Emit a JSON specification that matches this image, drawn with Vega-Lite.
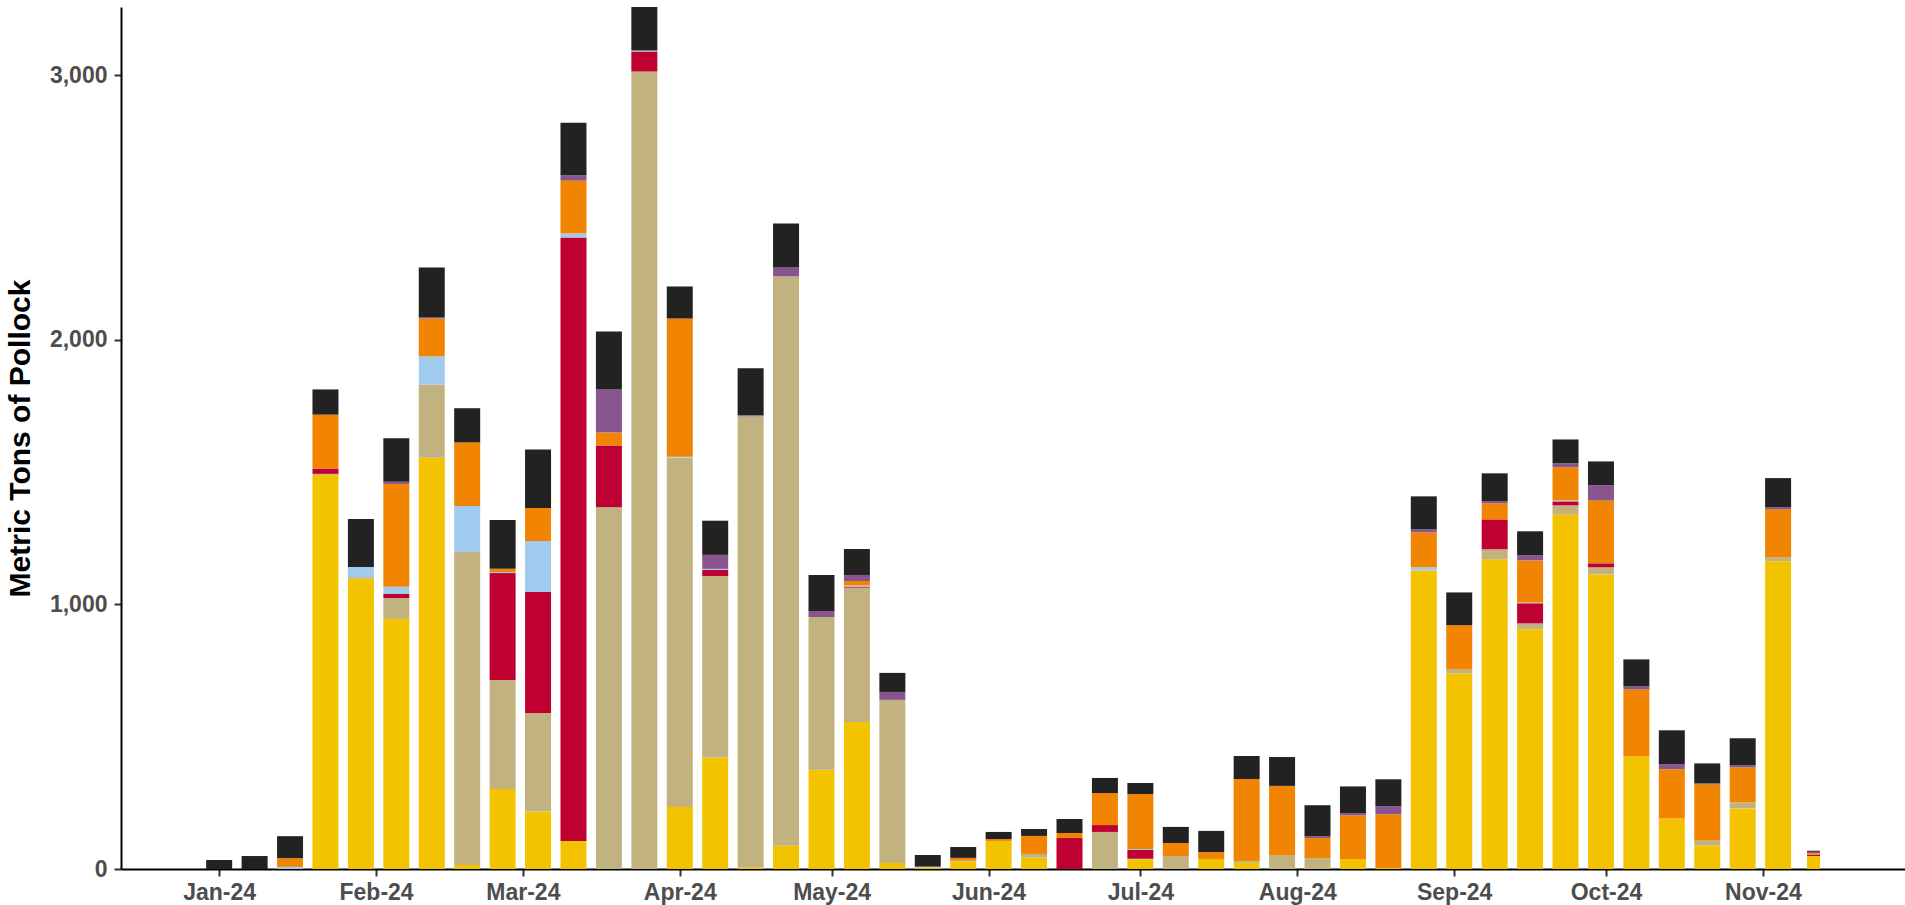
{
  "$schema": "https://vega.github.io/schema/vega-lite/v6.json",
  "width": 1784,
  "height": 862,
  "autosize": {"type": "none"},
  "padding": {"left": 121, "top": 7, "right": 0, "bottom": 36},
  "background": "white",
  "config": {"view": {"stroke": null}, "font": "Liberation Sans"},
  "data": {"values": [
    {"week": "2024-01-01", "A": 0, "B": 0, "C": 0, "D": 0, "E": 0, "F": 0, "G": 34},
    {"week": "2024-01-08", "A": 0, "B": 0, "C": 0, "D": 0, "E": 0, "F": 0, "G": 49},
    {"week": "2024-01-15", "A": 0, "B": 0, "C": 0, "D": 8, "E": 33, "F": 0, "G": 83},
    {"week": "2024-01-22", "A": 1489, "B": 4, "C": 20, "D": 0, "E": 204, "F": 0, "G": 95},
    {"week": "2024-01-29", "A": 1097, "B": 6, "C": 0, "D": 38, "E": 0, "F": 0, "G": 181},
    {"week": "2024-02-05", "A": 945, "B": 79, "C": 15, "D": 27, "E": 389, "F": 8, "G": 165},
    {"week": "2024-02-12", "A": 1554, "B": 277, "C": 0, "D": 105, "E": 144, "F": 4, "G": 189},
    {"week": "2024-02-19", "A": 15, "B": 1183, "C": 0, "D": 174, "E": 240, "F": 0, "G": 129},
    {"week": "2024-02-26", "A": 302, "B": 412, "C": 404, "D": 4, "E": 12, "F": 0, "G": 185},
    {"week": "2024-03-04", "A": 217, "B": 372, "C": 458, "D": 192, "E": 125, "F": 0, "G": 221},
    {"week": "2024-03-11", "A": 106, "B": 0, "C": 2280, "D": 15, "E": 200, "F": 19, "G": 200},
    {"week": "2024-03-18", "A": 0, "B": 1367, "C": 233, "D": 0, "E": 49, "F": 163, "G": 219},
    {"week": "2024-03-25", "A": 0, "B": 3013, "C": 76, "D": 4, "E": 0, "F": 0, "G": 164},
    {"week": "2024-04-01", "A": 234, "B": 1320, "C": 0, "D": 4, "E": 522, "F": 0, "G": 121},
    {"week": "2024-04-08", "A": 421, "B": 686, "C": 23, "D": 4, "E": 0, "F": 53, "G": 129},
    {"week": "2024-04-15", "A": 5, "B": 1705, "C": 0, "D": 0, "E": 0, "F": 4, "G": 178},
    {"week": "2024-04-22", "A": 88, "B": 2151, "C": 0, "D": 0, "E": 0, "F": 34, "G": 166},
    {"week": "2024-04-29", "A": 375, "B": 577, "C": 0, "D": 0, "E": 0, "F": 23, "G": 136},
    {"week": "2024-05-06", "A": 555, "B": 508, "C": 4, "D": 4, "E": 17, "F": 23, "G": 98},
    {"week": "2024-05-13", "A": 23, "B": 616, "C": 0, "D": 0, "E": 0, "F": 30, "G": 72},
    {"week": "2024-05-20", "A": 5, "B": 4, "C": 0, "D": 0, "E": 0, "F": 0, "G": 44},
    {"week": "2024-05-27", "A": 28, "B": 3, "C": 0, "D": 0, "E": 11, "F": 0, "G": 41},
    {"week": "2024-06-03", "A": 106, "B": 0, "C": 0, "D": 0, "E": 7, "F": 0, "G": 27},
    {"week": "2024-06-10", "A": 43, "B": 14, "C": 0, "D": 0, "E": 68, "F": 0, "G": 26},
    {"week": "2024-06-17", "A": 0, "B": 0, "C": 117, "D": 0, "E": 19, "F": 0, "G": 53},
    {"week": "2024-06-24", "A": 0, "B": 140, "C": 26, "D": 0, "E": 121, "F": 0, "G": 57},
    {"week": "2024-07-01", "A": 37, "B": 2, "C": 33, "D": 4, "E": 207, "F": 0, "G": 42},
    {"week": "2024-07-08", "A": 0, "B": 49, "C": 0, "D": 0, "E": 49, "F": 0, "G": 61},
    {"week": "2024-07-15", "A": 38, "B": 0, "C": 0, "D": 0, "E": 26, "F": 0, "G": 80},
    {"week": "2024-07-22", "A": 23, "B": 7, "C": 0, "D": 0, "E": 310, "F": 0, "G": 87},
    {"week": "2024-07-29", "A": 0, "B": 53, "C": 0, "D": 0, "E": 261, "F": 0, "G": 109},
    {"week": "2024-08-05", "A": 0, "B": 41, "C": 0, "D": 0, "E": 76, "F": 7, "G": 117},
    {"week": "2024-08-12", "A": 37, "B": 0, "C": 0, "D": 0, "E": 166, "F": 7, "G": 102},
    {"week": "2024-08-19", "A": 4, "B": 0, "C": 0, "D": 0, "E": 203, "F": 30, "G": 102},
    {"week": "2024-08-26", "A": 1128, "B": 0, "C": 0, "D": 12, "E": 132, "F": 11, "G": 125},
    {"week": "2024-09-02", "A": 739, "B": 15, "C": 0, "D": 0, "E": 167, "F": 0, "G": 124},
    {"week": "2024-09-09", "A": 1170, "B": 38, "C": 113, "D": 0, "E": 61, "F": 7, "G": 106},
    {"week": "2024-09-16", "A": 906, "B": 22, "C": 76, "D": 3, "E": 159, "F": 19, "G": 91},
    {"week": "2024-09-23", "A": 1340, "B": 34, "C": 15, "D": 4, "E": 125, "F": 15, "G": 90},
    {"week": "2024-09-30", "A": 1113, "B": 27, "C": 15, "D": 0, "E": 238, "F": 57, "G": 90},
    {"week": "2024-10-07", "A": 426, "B": 0, "C": 0, "D": 0, "E": 253, "F": 11, "G": 102},
    {"week": "2024-10-14", "A": 191, "B": 0, "C": 0, "D": 0, "E": 186, "F": 19, "G": 128},
    {"week": "2024-10-21", "A": 89, "B": 19, "C": 0, "D": 0, "E": 212, "F": 4, "G": 75},
    {"week": "2024-10-28", "A": 229, "B": 23, "C": 0, "D": 0, "E": 132, "F": 8, "G": 102},
    {"week": "2024-11-04", "A": 1163, "B": 15, "C": 0, "D": 0, "E": 181, "F": 8, "G": 110},
    {"week": "2024-11-11", "A": 49, "B": 0, "C": 5, "D": 0, "E": 6, "F": 5, "G": 4}
  ]},
  "transform": [{"fold": ["A", "B", "C", "D", "E", "F", "G"], "as": ["cat", "t"]}],
  "encoding": {
    "x": {
      "field": "week", "type": "temporal",
      "scale": {"type": "utc", "domain": [
        {"year": 2023, "month": 12, "date": 13, "hours": 14, "minutes": 10, "utc": true},
        {"year": 2024, "month": 11, "date": 28, "hours": 2, "utc": true}
      ]},
      "axis": {
        "title": null,
        "values": [
          {"year": 2024, "month": 1, "date": 1, "utc": true},
          {"year": 2024, "month": 2, "date": 1, "utc": true},
          {"year": 2024, "month": 3, "date": 1, "utc": true},
          {"year": 2024, "month": 4, "date": 1, "utc": true},
          {"year": 2024, "month": 5, "date": 1, "utc": true},
          {"year": 2024, "month": 6, "date": 1, "utc": true},
          {"year": 2024, "month": 7, "date": 1, "utc": true},
          {"year": 2024, "month": 8, "date": 1, "utc": true},
          {"year": 2024, "month": 9, "date": 1, "utc": true},
          {"year": 2024, "month": 10, "date": 1, "utc": true},
          {"year": 2024, "month": 11, "date": 1, "utc": true}
        ],
        "labelExpr": "utcFormat(datum.value, '%b-%y')",
        "grid": false,
        "labelFont": "Liberation Sans", "labelFontSize": 23, "labelFontWeight": "bold", "labelColor": "#4D4D4D",
        "labelPadding": 5, "labelFlush": false, "labelOverlap": false,
        "tickColor": "#333333", "tickSize": 7, "tickWidth": 2,
        "domainColor": "#000000", "domainWidth": 2
      }
    },
    "y": {
      "field": "t", "type": "quantitative", "stack": "zero",
      "scale": {"domain": [0, 3257], "nice": false},
      "axis": {
        "title": "Metric Tons of Pollock",
        "titleFont": "Liberation Sans", "titleFontSize": 30, "titleFontWeight": "bold", "titleColor": "#000000",
        "titlePadding": 14,
        "values": [0, 1000, 2000, 3000], "format": ",.0f",
        "grid": false,
        "labelFont": "Liberation Sans", "labelFontSize": 23, "labelFontWeight": "bold", "labelColor": "#4D4D4D",
        "labelPadding": 7,
        "tickColor": "#333333", "tickSize": 7, "tickWidth": 2,
        "domainColor": "#000000", "domainWidth": 2
      }
    },
    "color": {
      "field": "cat", "type": "nominal", "legend": null,
      "scale": {"domain": ["A", "B", "C", "D", "E", "F", "G"],
        "range": ["#F3C300", "#C2B280", "#BF0033", "#A1CBEE", "#F18400", "#88558F", "#222222"]}
    },
    "order": {"field": "cat", "sort": "ascending"}
  },
  "layer": [
    {"transform": [{"filter": "time(datum.week) < utc(2024, 10, 8)"}], "mark": {"type": "bar", "size": 26}},
    {"transform": [{"filter": "time(datum.week) >= utc(2024, 10, 8)"}], "mark": {"type": "bar", "size": 13}}
  ]
}
